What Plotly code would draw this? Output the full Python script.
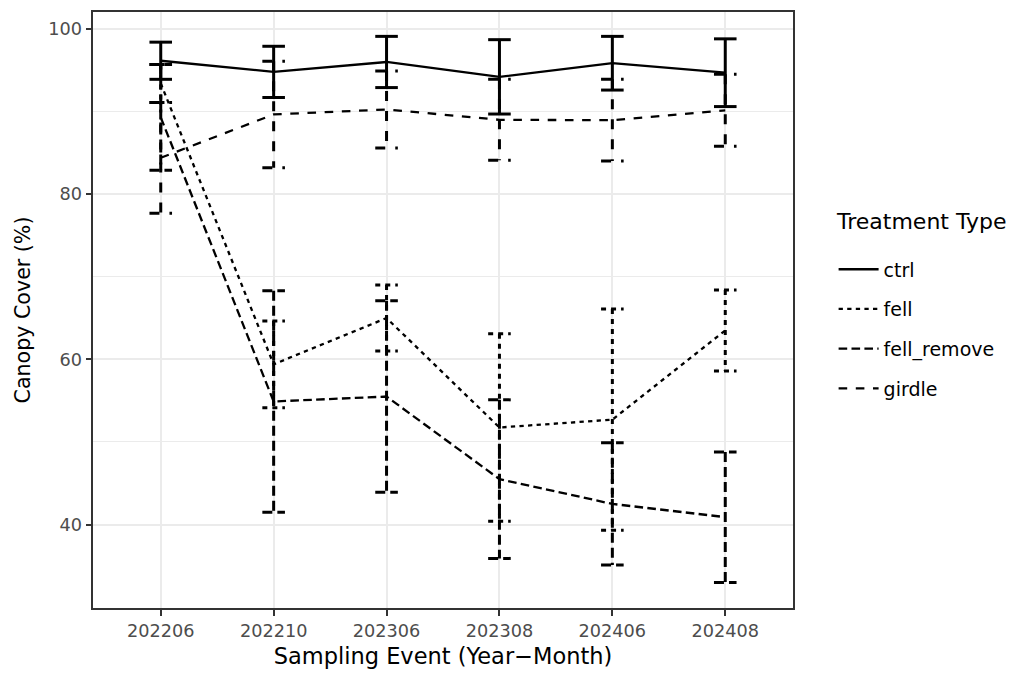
import plotly.graph_objects as go

# ---- data ----
events = ["202206", "202210", "202306", "202308", "202406", "202408"]
treatments = ["ctrl", "fell", "fell_remove", "girdle"]

ctrl_mean = [96.15, 94.8, 96.0, 94.2, 95.85, 94.7]
ctrl_err = [2.25, 3.1, 3.1, 4.5, 3.25, 4.1]

fell_mean = [93.4, 59.4, 65.0, 51.75, 52.7, 63.5]
fell_err = [2.3, 5.25, 4.0, 11.35, 13.4, 4.9]

fell_remove_mean = [89.3, 54.9, 55.5, 45.5, 42.5, 40.9]
fell_remove_err = [6.4, 13.4, 11.6, 9.6, 7.4, 7.9]

girdle_mean = [84.4, 89.65, 90.25, 89.0, 88.95, 90.15]
girdle_err = [6.7, 6.45, 4.65, 4.9, 4.95, 4.35]

series = {
    "ctrl": (ctrl_mean, ctrl_err),
    "fell": (fell_mean, fell_err),
    "fell_remove": (fell_remove_mean, fell_remove_err),
    "girdle": (girdle_mean, girdle_err),
}

# ---- styles ----
line_dash = {"ctrl": "solid", "fell": "4.3px,4.3px", "fell_remove": "8.6px,4.3px", "girdle": "8.6px,8.6px"}
bar_dash = {"ctrl": "solid", "fell": "5px,5px", "fell_remove": "10px,5px", "girdle": "10px,10px"}
LINE_W = 2.3
BAR_W = 3.0
CAP_HALF = 0.1
FONT = "DejaVu Sans, Liberation Sans, sans-serif"

xpos = list(range(1, len(events) + 1))

fig = go.Figure()

for name in treatments:
    mean, err = series[name]
    fig.add_trace(go.Scatter(
        x=xpos, y=mean, mode="lines", name=name,
        legendgroup=name,
        line=dict(color="black", width=LINE_W, dash=line_dash[name]),
        hoverinfo="skip",
    ))

for name in treatments:
    mean, err = series[name]
    ex, ey = [], []
    for xi, m, e in zip(xpos, mean, err):
        top, bot = m + e, m - e
        ex += [xi - CAP_HALF, xi + CAP_HALF, None, xi, xi, None, xi - CAP_HALF, xi + CAP_HALF, None]
        ey += [top, top, None, top, bot, None, bot, bot, None]
    fig.add_trace(go.Scatter(
        x=ex, y=ey, mode="lines", showlegend=False, legendgroup=name,
        connectgaps=False,
        line=dict(color="black", width=BAR_W, dash=bar_dash[name]),
        hoverinfo="skip",
    ))

# page body has an 8px margin; figure sized so that page coords match the reference
fig.update_layout(
    width=1008, height=667,
    margin=dict(l=85, r=223, t=2, b=67),
    paper_bgcolor="white", plot_bgcolor="white",
    font=dict(family=FONT, color="black"),
    legend=dict(
        font=dict(size=19, color="black"),
        x=1.058, xanchor="left", y=0.6, yanchor="top",
        tracegroupgap=12, itemwidth=40,
        bgcolor="rgba(0,0,0,0)",
    ),
    annotations=[dict(
        text="Treatment Type", xref="paper", yref="paper",
        x=1.059, xanchor="left", y=0.648, yanchor="middle",
        showarrow=False, font=dict(size=22, color="black"),
    )],
    xaxis=dict(
        range=[0.4, 6.6], tickmode="array", tickvals=xpos, ticktext=events,
        showgrid=True, gridcolor="#EBEBEB", gridwidth=2.1,
        showline=True, linecolor="#333333", linewidth=2, mirror=True,
        ticks="outside", ticklen=5.5, tickwidth=2, tickcolor="#333333",
        tickfont=dict(size=17.7, color="#4D4D4D"),
        zeroline=False,
        title=dict(text="Sampling Event (Year\u2212Month)", font=dict(size=22.5, color="black"), standoff=9),
    ),
    yaxis=dict(
        range=[29.9, 102.05], tick0=0, dtick=20,
        showgrid=True, gridcolor="#EBEBEB", gridwidth=2.1,
        minor=dict(tick0=0, dtick=10, showgrid=True, gridcolor="#EBEBEB", gridwidth=1.1, ticks=""),
        showline=True, linecolor="#333333", linewidth=2, mirror=True,
        ticks="outside", ticklen=5.5, tickwidth=2, tickcolor="#333333",
        tickfont=dict(size=17.7, color="#4D4D4D"),
        zeroline=False,
        title=dict(text="Canopy Cover (%)", font=dict(size=20.6, color="black"), standoff=12),
    ),
)

fig.write_html("out.html")
